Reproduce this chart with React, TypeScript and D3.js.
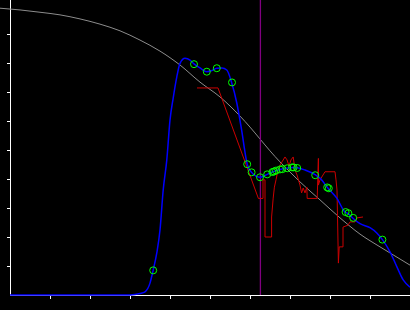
import React from "react";
import * as d3 from "d3";

const W = 410;
const H = 310;

const xTicks = [1, 2, 3, 4, 5, 6, 7, 8, 9];
const yTicks = [1, 2, 3, 4, 5, 6, 7, 8, 9];

const grayX = [-0.25, 0.25, 0.75, 1.25, 1.75, 2.25, 2.75, 3.25, 3.75, 4.25, 4.75, 5.25, 5.75, 6, 6.25, 6.5, 6.75, 7, 7.25, 7.75, 8.25, 8.75, 9.25, 9.75, 10];
const grayY = [9.89, 9.83, 9.75, 9.66, 9.52, 9.34, 9.11, 8.79, 8.41, 7.93, 7.34, 6.83, 6.17, 5.79, 5.38, 4.97, 4.59, 4.24, 3.9, 3.28, 2.66, 2.1, 1.66, 1.24, 1.03];

const blueX = [0, 3, 3.25, 3.375, 3.5, 3.58, 3.67, 3.75, 3.83, 3.92, 4.0, 4.08, 4.17, 4.25, 4.375, 4.5, 4.6, 4.75, 4.92, 5.05, 5.17, 5.3, 5.42, 5.54, 5.67, 5.79, 5.9, 5.93, 6.04, 6.15, 6.25, 6.43, 6.56, 6.75, 6.95, 7.08, 7.18, 7.375, 7.64, 7.75, 7.94, 8.17, 8.375, 8.46, 8.58, 8.75, 9.0, 9.17, 9.31, 9.5, 9.67, 9.83, 10];
const blueY = [0, 0, 0.05, 0.11, 0.41, 0.86, 1.45, 2.24, 3.62, 4.66, 6.03, 6.79, 7.52, 7.99, 8.16, 8.1, 7.97, 7.83, 7.7, 7.74, 7.82, 7.83, 7.76, 7.33, 6.62, 5.69, 4.72, 4.51, 4.23, 4.1, 4.06, 4.16, 4.24, 4.33, 4.38, 4.4, 4.39, 4.31, 4.14, 4.03, 3.7, 3.34, 2.86, 2.8, 2.64, 2.46, 2.32, 2.14, 1.91, 1.49, 0.98, 0.52, 0.27];

const redX = [4.675, 5.2, 6.21, 6.325, 6.325, 6.375, 6.375, 6.54, 6.54, 6.58, 6.61, 6.65, 6.7, 6.75, 6.8, 6.875, 6.925, 6.975, 7.025, 7.08, 7.125, 7.175, 7.225, 7.25, 7.29, 7.33, 7.375, 7.42, 7.43, 7.68, 7.71, 7.71, 7.75, 7.875, 8.125, 8.15, 8.175, 8.21, 8.23, 8.325, 8.325, 8.45, 8.5, 8.625, 8.675, 8.825];
const redY = [7.14, 7.14, 3.33, 3.33, 3.97, 3.97, 2.0, 2.0, 2.69, 3.34, 3.72, 3.97, 4.31, 4.48, 4.59, 4.76, 4.66, 4.45, 4.66, 4.76, 4.31, 4.14, 3.9, 3.79, 3.52, 3.69, 3.52, 3.72, 3.33, 3.33, 4.71, 3.79, 3.97, 4.25, 4.25, 3.97, 3.62, 1.1, 1.66, 1.66, 2.34, 2.41, 2.52, 2.52, 2.66, 2.69];

const ptX = [3.58, 4.6, 4.92, 5.17, 5.55, 5.93, 6.04, 6.25, 6.43, 6.56, 6.6, 6.65, 6.75, 6.81, 6.93, 7.05, 7.09, 7.18, 7.63, 7.93, 7.97, 8.39, 8.46, 8.58, 9.31];
const ptY = [0.85, 7.96, 7.7, 7.82, 7.33, 4.51, 4.23, 4.06, 4.16, 4.24, 4.26, 4.29, 4.33, 4.34, 4.37, 4.4, 4.4, 4.38, 4.13, 3.71, 3.68, 2.86, 2.82, 2.66, 1.91];

const markerX = 6.26;

export default function App() {
  const x = d3.scaleLinear().domain([0, 10]).range([10, 410]);
  const y = d3.scaleLinear().domain([0, 10]).range([295, 5]);

  const zip = (xs: number[], ys: number[]) => xs.map((v, i) => [v, ys[i]] as [number, number]);

  const smooth = d3
    .line<[number, number]>()
    .x((d) => x(d[0]))
    .y((d) => y(d[1]))
    .curve(d3.curveMonotoneX);
  const straight = d3
    .line<[number, number]>()
    .x((d) => x(d[0]))
    .y((d) => y(d[1]));

  return (
    <svg
      width={W}
      height={H}
      style={{ position: "fixed", left: 0, top: 0, display: "block" }}
    >
      <rect x={0} y={0} width={W} height={H} fill="#000" />
      <line x1={10.5} y1={0} x2={10.5} y2={295.5} stroke="#fff" strokeWidth={1} shapeRendering="crispEdges" />
      <line x1={10} y1={295.5} x2={410} y2={295.5} stroke="#fff" strokeWidth={1} shapeRendering="crispEdges" />
      {yTicks.map((t) => (
        <line key={"y" + t} x1={7} x2={10} y1={Math.round(y(t)) + 0.5} y2={Math.round(y(t)) + 0.5} stroke="#fff" shapeRendering="crispEdges" />
      ))}
      {xTicks.map((t) => (
        <line key={"x" + t} x1={Math.round(x(t)) + 0.5} x2={Math.round(x(t)) + 0.5} y1={296} y2={299} stroke="#fff" shapeRendering="crispEdges" />
      ))}
      <path d={smooth(zip(grayX, grayY)) || ""} fill="none" stroke="#8c8c8c" strokeWidth={1} />
      <line x1={x(markerX)} x2={x(markerX)} y1={0} y2={295} stroke="#800080" strokeWidth={1.3} />
      <path d={straight(zip(redX, redY)) || ""} fill="none" stroke="#cc0000" strokeWidth={1} />
      <path d={smooth(zip(blueX, blueY)) || ""} fill="none" stroke="#0000ff" strokeWidth={1.5} />
      {ptX.map((px, i) => (
        <circle key={"p" + i} cx={x(px)} cy={y(ptY[i])} r={3.5} fill="none" stroke="#00ff00" strokeWidth={1} />
      ))}
    </svg>
  );
}
